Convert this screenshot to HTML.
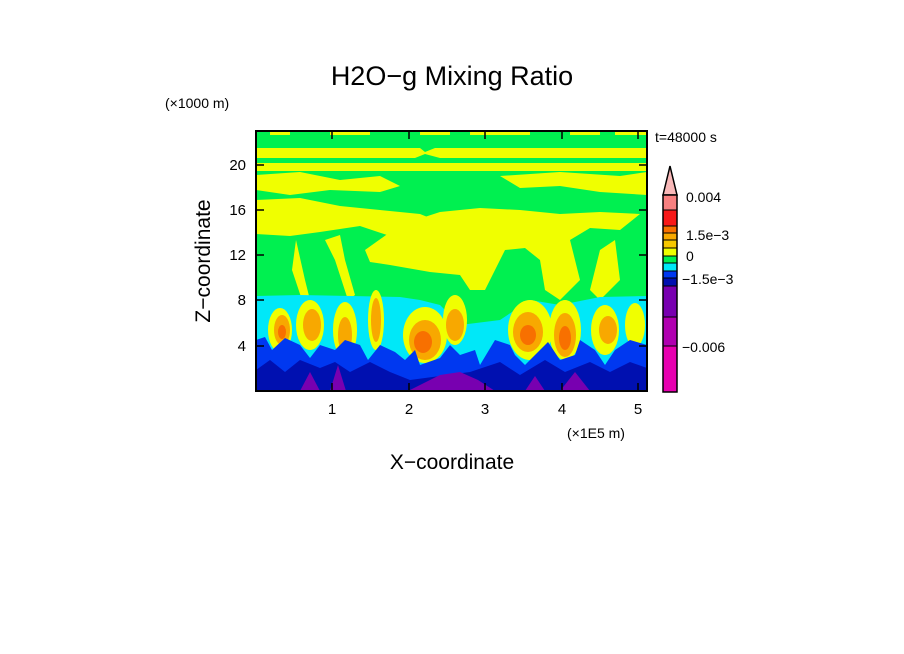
<!DOCTYPE html>
<html><head><style>body{margin:0;background:#fff}svg{display:block}text{font-family:"Liberation Sans",sans-serif}</style></head>
<body>
<svg width="904" height="654" viewBox="0 0 904 654" xmlns="http://www.w3.org/2000/svg">
<defs><clipPath id="c"><rect x="256" y="131" width="391" height="260"/></clipPath></defs>
<g clip-path="url(#c)">
<rect x="256" y="131" width="391" height="260" fill="#00f050"/>
<path d="M270 131h20v4h-20zM330 131h40v4h-40zM420 131h30v4h-30zM470 131h60v4h-60zM570 131h30v4h-30zM615 131h32v4h-32z" fill="#f0ff00"/>
<path d="M256 148 H420 L425 152 L435 148 H647 V158 H440 L425 154 L415 158 H256Z" fill="#f0ff00"/>
<rect x="256" y="163" width="391" height="8" fill="#f0ff00"/>
<path d="M256 175 L300 172 L340 180 L380 176 L400 186 L380 192 L330 190 L290 195 L256 190Z" fill="#f0ff00"/>
<path d="M500 176 L560 172 L620 176 L647 172 V195 L600 192 L560 186 L520 188Z" fill="#f0ff00"/>
<path d="M256 200 L300 198 L340 206 L380 210 L420 214 L440 222 L420 232 L390 236 L360 226 L320 232 L290 236 L256 234Z" fill="#f0ff00"/>
<path d="M365 250 L400 225 L440 212 L480 208 L520 210 L560 214 L600 212 L640 214 L620 230 L590 228 L570 240 L580 280 L560 300 L545 290 L540 260 L525 248 L505 250 L485 290 L470 290 L460 275 L430 272 L390 265 L370 262Z" fill="#f0ff00"/>
<path d="M340 235 L345 260 L355 295 L348 300 L335 260 L325 240Z" fill="#f0ff00"/>
<path d="M296 240 L305 280 L310 300 L302 300 L292 270Z" fill="#f0ff00"/>
<path d="M600 250 L615 240 L620 280 L600 300 L590 290Z" fill="#f0ff00"/>
<path d="M256 296 L300 295 L400 297 L420 300 L440 305 L460 325 L500 320 L530 300 L560 305 L600 297 L647 296 V391 H256Z" fill="#00e8f8"/>
<g fill="#f0ff00">
<ellipse cx="280" cy="330" rx="12" ry="22"/><ellipse cx="310" cy="325" rx="14" ry="25"/><ellipse cx="345" cy="330" rx="12" ry="28"/>
<ellipse cx="376" cy="320" rx="8" ry="30"/><ellipse cx="425" cy="335" rx="22" ry="28"/><ellipse cx="455" cy="320" rx="12" ry="25"/>
<ellipse cx="530" cy="330" rx="22" ry="30"/><ellipse cx="565" cy="330" rx="16" ry="30"/><ellipse cx="605" cy="330" rx="14" ry="25"/><ellipse cx="635" cy="325" rx="10" ry="22"/>
</g>
<g fill="#f8a800">
<ellipse cx="282" cy="330" rx="8" ry="15"/><ellipse cx="312" cy="325" rx="9" ry="16"/><ellipse cx="376" cy="320" rx="5" ry="22"/>
<ellipse cx="425" cy="340" rx="16" ry="20"/><ellipse cx="455" cy="325" rx="9" ry="16"/><ellipse cx="528" cy="332" rx="15" ry="20"/>
<ellipse cx="565" cy="335" rx="11" ry="22"/><ellipse cx="608" cy="330" rx="9" ry="14"/><ellipse cx="345" cy="335" rx="7" ry="18"/>
</g>
<g fill="#f87000">
<ellipse cx="423" cy="342" rx="9" ry="11"/><ellipse cx="528" cy="335" rx="8" ry="10"/><ellipse cx="565" cy="338" rx="6" ry="12"/><ellipse cx="282" cy="332" rx="4" ry="7"/>
</g>
<path d="M256 340 L265 337 L272 350 L285 338 L300 345 L310 358 L320 345 L335 350 L345 340 L360 345 L368 360 L380 345 L395 352 L405 360 L415 350 L420 365 L440 358 L450 345 L460 355 L475 350 L480 365 L495 340 L510 345 L515 355 L525 365 L540 350 L548 342 L560 360 L575 355 L580 340 L595 350 L605 365 L615 350 L630 340 L647 345 V391 H256Z" fill="#0038f0"/>
<path d="M256 370 L270 360 L285 372 L300 360 L320 368 L335 362 L350 372 L370 362 L390 372 L410 380 L440 376 L470 372 L500 362 L520 375 L545 360 L565 372 L590 362 L610 372 L630 362 L647 368 V391 H256Z" fill="#0010b0"/>
<path d="M300 391 L310 372 L320 391Z M330 391 L338 365 L346 391Z M408 391 L440 375 L460 372 L478 380 L495 391Z M525 391 L535 376 L545 391Z M560 391 L575 372 L590 391Z" fill="#7800b0"/>
</g>
<rect x="256" y="131" width="391" height="260" fill="none" stroke="#000" stroke-width="2"/>
<g stroke="#000" stroke-width="1.5">
<path d="M332 391v-8M409 391v-8M485 391v-8M562 391v-8M638 391v-8M332 131v8M409 131v8M485 131v8M562 131v8M638 131v8"/>
<path d="M256 346h8M256 300h8M256 255h8M256 210h8M256 165h8M647 346h-8M647 300h-8M647 255h-8M647 210h-8M647 165h-8"/>
</g>
<g font-size="15" text-anchor="middle">
<text x="332" y="414">1</text><text x="409" y="414">2</text><text x="485" y="414">3</text><text x="562" y="414">4</text><text x="638" y="414">5</text>
</g>
<g font-size="15" text-anchor="end">
<text x="246" y="351">4</text><text x="246" y="305">8</text><text x="246" y="260">12</text><text x="246" y="215">16</text><text x="246" y="170">20</text>
</g>
<text x="452" y="85" font-size="27" text-anchor="middle">H2O−g Mixing Ratio</text>
<text x="165" y="108" font-size="14">(×1000 m)</text>
<text x="567" y="438" font-size="14">(×1E5 m)</text>
<text x="452" y="469" font-size="21" text-anchor="middle">X−coordinate</text>
<text transform="translate(210,261) rotate(-90)" font-size="21" text-anchor="middle">Z−coordinate</text>
<text x="655" y="142" font-size="14">t=48000 s</text>
<path d="M663 195 L670 166 L677 195Z" fill="#f8b8b8" stroke="#000" stroke-width="1.5"/>
<rect x="663" y="195" width="14" height="15" fill="#f88080"/>
<rect x="663" y="210" width="14" height="16" fill="#f81818"/>
<rect x="663" y="226" width="14" height="7" fill="#f87000"/>
<rect x="663" y="233" width="14" height="7" fill="#f8a800"/>
<rect x="663" y="240" width="14" height="8" fill="#f8c800"/>
<rect x="663" y="248" width="14" height="8" fill="#f0ff00"/>
<rect x="663" y="256" width="14" height="7" fill="#00f050"/>
<rect x="663" y="263" width="14" height="8" fill="#00e8f8"/>
<rect x="663" y="271" width="14" height="7" fill="#0038f0"/>
<rect x="663" y="278" width="14" height="8" fill="#0010b0"/>
<rect x="663" y="286" width="14" height="31" fill="#7800b0"/>
<rect x="663" y="317" width="14" height="29" fill="#b000b0"/>
<rect x="663" y="346" width="14" height="46" fill="#e800b0"/>
<rect x="663" y="195" width="14" height="197" fill="none" stroke="#000" stroke-width="1.5"/>
<g stroke="#000" stroke-width="1"><path d="M663 210h14M663 226h14M663 233h14M663 240h14M663 248h14M663 256h14M663 263h14M663 271h14M663 278h14M663 286h14M663 317h14M663 346h14"/></g>
<g font-size="14">
<text x="686" y="202">0.004</text><text x="686" y="240">1.5e−3</text><text x="686" y="261">0</text><text x="682" y="284">−1.5e−3</text><text x="682" y="352">−0.006</text>
</g>
</svg>
</body></html>
